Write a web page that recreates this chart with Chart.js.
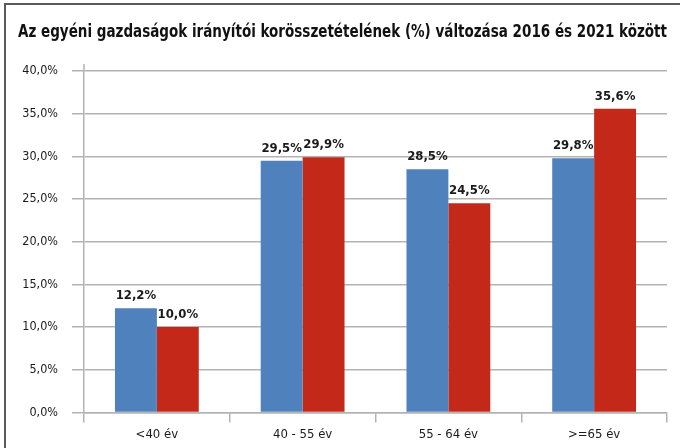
<!DOCTYPE html>
<html>
<head>
<meta charset="utf-8">
<script src="https://cdn.jsdelivr.net/npm/chart.js@4"></script>
<style>
  html, body { margin: 0; padding: 0; background: #fff; }
  #wrap { width: 680px; height: 448px; position: relative; }
</style>
</head>
<body>
<div id="wrap"><canvas id="chart"></canvas></div>
<script>
const categories = ['<40 év', '40 - 55 év', '55 - 64 év', '>=65 év'];
const values2016 = [12.2, 29.5, 28.5, 29.8];
const values2021 = [10.0, 29.9, 24.5, 35.6];
const yTicks = [0, 5, 10, 15, 20, 25, 30, 35, 40];

const FONT = "'DejaVu Sans Condensed', 'Liberation Sans Narrow', sans-serif";
const fmt = v => v.toFixed(1).replace('.', ',') + '%';

// frame + short axis stub above the top gridline
const framePlugin = {
    id: 'frame',
    beforeDraw(chart) {
        const c = chart.ctx;
        c.save();
        c.fillStyle = '#fff';
        c.fillRect(0, 0, chart.width, chart.height);
        c.strokeStyle = '#595959';
        c.lineWidth = 2;
        c.beginPath();
        c.moveTo(5, 448);
        c.lineTo(5, 4);
        c.lineTo(680, 4);
        c.stroke();
        c.restore();
    },
    afterDraw(chart) {
        const c = chart.ctx;
        const a = chart.chartArea;
        c.save();
        c.strokeStyle = '#b3b3b3';
        c.lineWidth = 1.5;
        c.beginPath();
        c.moveTo(a.left, a.top - 7);
        c.lineTo(a.left, a.top);
        c.stroke();
        c.restore();
    }
};

// value labels above each bar
const labelPlugin = {
    id: 'barLabels',
    afterDatasetsDraw(chart) {
        const c = chart.ctx;
        c.save();
        c.font = "bold 13px " + FONT;
        c.fillStyle = '#1a1a1a';
        c.textAlign = 'center';
        c.textBaseline = 'bottom';
        chart.data.datasets.forEach((ds, i) => {
            chart.getDatasetMeta(i).data.forEach((bar, j) => {
                c.fillText(fmt(ds.data[j]), bar.x, bar.y - 6);
            });
        });
        c.restore();
    }
};

new Chart(document.getElementById('chart'), {
    type: 'bar',
    data: {
        labels: categories,
        datasets: [
            {
                label: '2016',
                data: values2016,
                backgroundColor: '#4f81bd',
                categoryPercentage: 0.575,
                barPercentage: 1.0
            },
            {
                label: '2021',
                data: values2021,
                backgroundColor: '#c42818',
                categoryPercentage: 0.575,
                barPercentage: 1.0
            }
        ]
    },
    options: {
        responsive: true,
        maintainAspectRatio: false,
        animation: false,
        layout: {
            padding: { left: 18, right: 13, top: 0, bottom: 2 }
        },
        plugins: {
            legend: { display: false },
            tooltip: { enabled: false },
            title: {
                display: true,
                text: 'Az egyéni gazdaságok irányítói korösszetételének (%) változása 2016 és 2021 között',
                align: 'start',
                color: '#111',
                font: { family: FONT, size: 17.6, weight: 'bold' },
                padding: { top: 22, bottom: 28 }
            }
        },
        scales: {
            x: {
                grid: {
                    drawOnChartArea: false,
                    tickLength: 10,
                    color: '#b3b3b3',
                    lineWidth: 1.5
                },
                border: { color: '#b3b3b3', width: 1.5 },
                ticks: {
                    color: '#1a1a1a',
                    font: { family: FONT, size: 13 },
                    padding: 4
                }
            },
            y: {
                min: 0,
                max: 40,
                afterBuildTicks(scale) {
                    scale.ticks = yTicks.map(v => ({ value: v }));
                },
                afterFit(scale) {
                    scale.width = 66;
                },
                grid: {
                    tickLength: 12,
                    color: '#b3b3b3',
                    lineWidth: 1.5
                },
                border: { color: '#b3b3b3', width: 1.5 },
                ticks: {
                    color: '#1a1a1a',
                    font: { family: FONT, size: 12.5 },
                    padding: 14,
                    callback: v => fmt(v)
                }
            }
        }
    },
    plugins: [framePlugin, labelPlugin]
});
</script>
</body>
</html>
